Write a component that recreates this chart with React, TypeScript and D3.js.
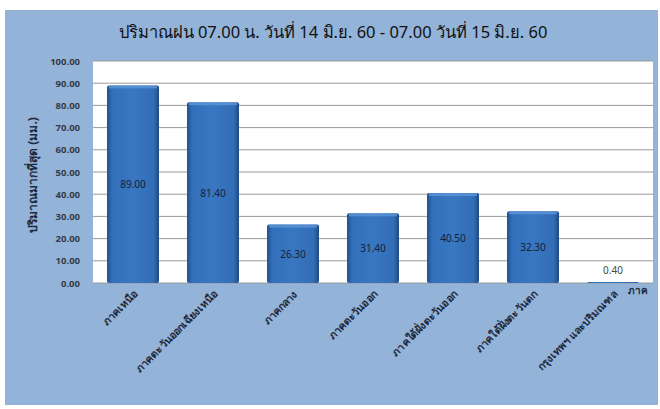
import { useEffect, useRef } from 'react'
import * as d3 from 'd3'

const title = 'ปริมาณฝน 07.00 น. วันที่ 14 มิ.ย. 60 - 07.00 วันที่ 15 มิ.ย. 60'
const yTitle = 'ปริมาณมากที่สุด (มม.)'
const xTitle = 'ภาค'
const regions = [
  'ภาคเหนือ',
  'ภาคตะวันออกเฉียงเหนือ',
  'ภาคกลาง',
  'ภาคตะวันออก',
  'ภาคใต้ฝั่งตะวันออก',
  'ภาคใต้ฝั่งตะวันตก',
  'กรุงเทพฯ และปริมณฑล',
]
const rainfall = [89.0, 81.4, 26.3, 31.4, 40.5, 32.3, 0.4]
const yTicks = [0, 10, 20, 30, 40, 50, 60, 70, 80, 90, 100]

const W = 660
const H = 409
const FONT = "Tahoma, 'Noto Sans', 'DejaVu Sans', sans-serif"

export default function App() {
  const svgRef = useRef<SVGSVGElement>(null)

  useEffect(() => {
    if (!svgRef.current) return
    const svg = d3.select(svgRef.current)
    svg.selectAll('*').remove()

    const margin = { top: 61, right: 7, bottom: 126, left: 93 }
    const innerW = W - margin.left - margin.right
    const innerH = H - margin.top - margin.bottom

    // page frame + chart area background
    svg.append('rect').attr('width', W).attr('height', H).attr('fill', '#ffffff')
    svg.append('rect')
      .attr('x', 5).attr('y', 10).attr('width', W - 7).attr('height', H - 14)
      .attr('fill', '#93b3d9')

    const defs = svg.append('defs')
    const grad = defs.append('linearGradient').attr('id', 'barGrad')
      .attr('x1', '0').attr('y1', '0').attr('x2', '1').attr('y2', '0')
    grad.append('stop').attr('offset', '0%').attr('stop-color', '#22508c')
    grad.append('stop').attr('offset', '10%').attr('stop-color', '#336fba')
    grad.append('stop').attr('offset', '50%').attr('stop-color', '#3977c2')
    grad.append('stop').attr('offset', '90%').attr('stop-color', '#326db5')
    grad.append('stop').attr('offset', '100%').attr('stop-color', '#1e4a84')

    const x = d3.scaleBand<string>()
      .domain(regions)
      .range([0, innerW])
      .paddingInner(0.35)
      .paddingOuter(0.175)
    const y = d3.scaleLinear().domain([0, 100]).range([innerH, 0])

    const g = svg.append('g').attr('transform', `translate(${margin.left},${margin.top})`)

    g.append('rect').attr('width', innerW).attr('height', innerH).attr('fill', '#ffffff')

    // gridlines
    g.append('g')
      .selectAll('line')
      .data(yTicks)
      .join('line')
      .attr('x1', 0).attr('x2', innerW)
      .attr('y1', (d) => y(d)).attr('y2', (d) => y(d))
      .attr('stroke', '#9a9a9a')
      .attr('stroke-width', 1)

    // bars
    const bars = g.append('g')
    bars.selectAll('rect.bar')
      .data(rainfall)
      .join('rect')
      .attr('class', 'bar')
      .attr('x', (_, i) => x(regions[i]) ?? 0)
      .attr('y', (d) => y(d))
      .attr('width', x.bandwidth())
      .attr('height', (d) => innerH - y(d))
      .attr('rx', 2)
      .attr('fill', 'url(#barGrad)')
    // top bevel highlight
    bars.selectAll('rect.bevel')
      .data(rainfall.filter((d) => d > 2))
      .join('rect')
      .attr('class', 'bevel')
      .attr('x', (_, i) => (x(regions[i]) ?? 0) + 2)
      .attr('y', (d) => y(d))
      .attr('width', x.bandwidth() - 4)
      .attr('height', 3)
      .attr('fill', '#5d95d6')
      .attr('opacity', 0.8)

    // value labels
    g.append('g')
      .selectAll('text')
      .data(rainfall)
      .join('text')
      .attr('x', (_, i) => (x(regions[i]) ?? 0) + x.bandwidth() / 2)
      .attr('y', (d) => (d < 5 ? y(d) - 8 : (y(d) + innerH) / 2 + 4))
      .attr('text-anchor', 'middle')
      .attr('font-family', FONT)
      .attr('font-size', 10)
      .attr('fill', (d) => (d < 5 ? '#4a4a3a' : '#14213a'))
      .text((d) => d.toFixed(2))

    // y axis labels
    g.append('g')
      .selectAll('text')
      .data(yTicks)
      .join('text')
      .attr('x', -13)
      .attr('y', (d) => y(d) + 3.5)
      .attr('text-anchor', 'end')
      .attr('font-family', FONT)
      .attr('font-size', 9.5)
      .attr('font-weight', 'bold')
      .attr('fill', '#333a46')
      .text((d) => d.toFixed(2))

    // x axis labels
    g.append('g')
      .selectAll('text')
      .data(regions)
      .join('text')
      .attr('transform', (d) => {
        const cx = (x(d) ?? 0) + x.bandwidth() / 2 + 5
        return `translate(${cx},${innerH + 12}) rotate(-45)`
      })
      .attr('text-anchor', 'end')
      .attr('font-family', FONT)
      .attr('font-size', 10.5)
      .attr('font-weight', 'bold')
      .attr('fill', '#1e2a3c')
      .text((d) => d)

    // axis titles
    svg.append('text')
      .attr('x', 648).attr('y', margin.top + innerH + 11)
      .attr('text-anchor', 'end')
      .attr('font-family', FONT)
      .attr('font-size', 10)
      .attr('font-weight', 'bold')
      .attr('fill', '#1e2a3c')
      .text(xTitle)

    svg.append('text')
      .attr('transform', `translate(37,${margin.top + innerH / 2 + 3}) rotate(-90)`)
      .attr('text-anchor', 'middle')
      .attr('font-family', FONT)
      .attr('font-size', 12)
      .attr('font-weight', 'bold')
      .attr('fill', '#1e2a3c')
      .text(yTitle)

    svg.append('text')
      .attr('x', 333).attr('y', 38)
      .attr('text-anchor', 'middle')
      .attr('font-family', FONT)
      .attr('font-size', 16.5)
      .attr('fill', '#111111')
      .text(title)
  }, [])

  return (
    <svg
      ref={svgRef}
      width={W}
      height={H}
      style={{ display: 'block', position: 'absolute', left: 0, top: 0 }}
    />
  )
}
